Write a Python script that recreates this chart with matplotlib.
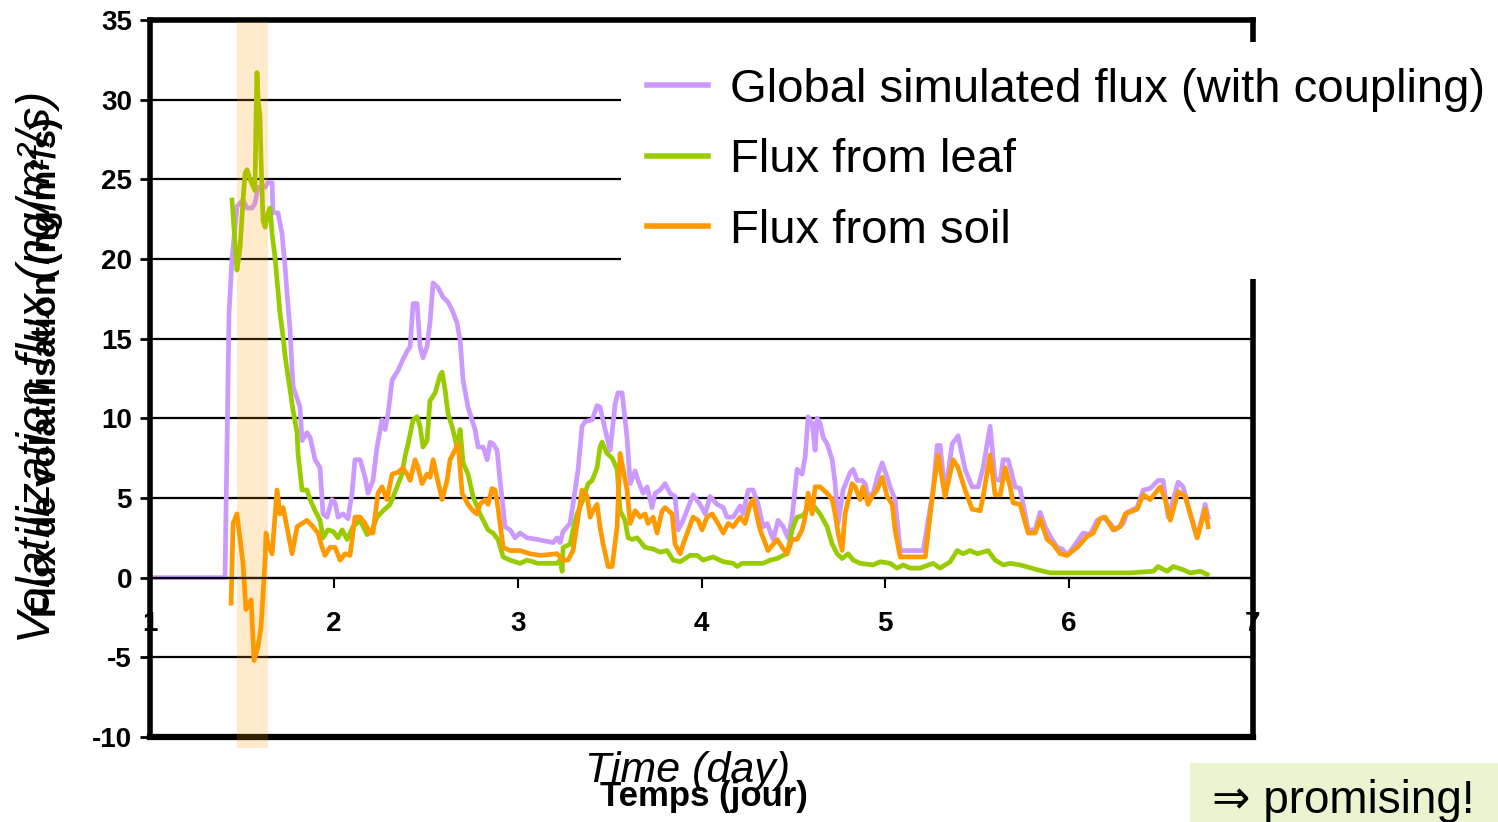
import matplotlib
matplotlib.use("Agg")
import matplotlib.pyplot as plt
from matplotlib.patches import Rectangle

plt.rcParams["font.family"] = ["Liberation Sans", "DejaVu Sans"]
plt.rcParams["axes.unicode_minus"] = False

# Global simulated flux (with coupling)
global_day = [1.000, 1.408, 1.430, 1.446, 1.473, 1.506, 1.528, 1.555, 1.571, 1.588, 1.626, 1.642,
              1.664, 1.669, 1.696, 1.718, 1.735, 1.745, 1.762, 1.778, 1.816, 1.827, 1.854, 1.871,
              1.898, 1.925, 1.941, 1.963, 1.990, 2.007, 2.023, 2.050, 2.077, 2.099, 2.115, 2.143,
              2.170, 2.186, 2.213, 2.235, 2.262, 2.279, 2.295, 2.317, 2.349, 2.376, 2.398, 2.415,
              2.431, 2.453, 2.469, 2.485, 2.507, 2.523, 2.540, 2.567, 2.594, 2.621, 2.643, 2.670,
              2.687, 2.703, 2.730, 2.752, 2.768, 2.785, 2.812, 2.834, 2.850, 2.866, 2.888, 2.904,
              2.921, 2.931, 2.959, 2.986, 3.013, 3.051, 3.106, 3.149, 3.193, 3.214, 3.231, 3.247,
              3.285, 3.301, 3.329, 3.350, 3.367, 3.405, 3.432, 3.448, 3.476, 3.503, 3.530, 3.546,
              3.568, 3.595, 3.612, 3.639, 3.655, 3.682, 3.704, 3.731, 3.748, 3.775, 3.802, 3.829,
              3.856, 3.873, 3.900, 3.927, 3.954, 3.992, 4.020, 4.047, 4.085, 4.118, 4.139, 4.172,
              4.210, 4.226, 4.254, 4.281, 4.308, 4.335, 4.357, 4.390, 4.417, 4.444, 4.471, 4.493,
              4.520, 4.547, 4.564, 4.580, 4.602, 4.618, 4.629, 4.645, 4.662, 4.683, 4.711, 4.727,
              4.743, 4.770, 4.809, 4.825, 4.847, 4.874, 4.890, 4.906, 4.934, 4.961, 4.983, 5.010,
              5.026, 5.053, 5.081, 5.206, 5.260, 5.282, 5.298, 5.325, 5.364, 5.396, 5.434, 5.472,
              5.505, 5.532, 5.570, 5.597, 5.625, 5.641, 5.668, 5.706, 5.733, 5.777, 5.815, 5.842,
              5.869, 5.907, 5.935, 5.962, 5.989, 6.022, 6.076, 6.114, 6.152, 6.185, 6.223, 6.250,
              6.294, 6.316, 6.370, 6.403, 6.441, 6.484, 6.511, 6.539, 6.593, 6.620, 6.658, 6.696,
              6.740, 6.756]
global_flux = [0, 0, 16.6, 20.0, 23.3, 23.7, 23.2, 23.2, 23.5, 24.5, 24.5, 24.8,
               24.8, 22.9, 22.9, 21.6, 19.5, 17.9, 15.5, 12.0, 10.7, 8.6, 9.1, 8.8,
               7.4, 6.9, 4.0, 3.8, 4.9, 4.7, 3.8, 4.0, 3.7, 5.3, 7.4, 7.4,
               6.3, 5.3, 6.1, 8.2, 9.9, 9.3, 10.3, 12.4, 13.0, 13.7, 14.2, 14.5,
               17.2, 17.2, 14.5, 13.8, 14.5, 16.0, 18.5, 18.2, 17.6, 17.3, 16.8, 16.0,
               14.9, 12.4, 10.7, 9.9, 9.3, 8.2, 8.2, 7.4, 8.5, 8.4, 8.0, 6.1,
               4.4, 3.2, 3.0, 2.5, 2.8, 2.5, 2.4, 2.3, 2.2, 2.5, 2.2, 2.9,
               3.4, 4.6, 6.8, 9.5, 9.8, 9.9, 10.8, 10.7, 9.3, 8.0, 10.9, 11.6,
               11.6, 8.8, 5.9, 6.7, 6.1, 5.3, 5.7, 4.4, 5.3, 5.5, 5.9, 5.3,
               5.1, 3.0, 3.6, 4.4, 5.2, 4.6, 4.0, 5.1, 4.6, 4.4, 3.8, 3.8,
               4.5, 4.0, 5.5, 5.5, 4.6, 3.2, 3.4, 2.4, 3.6, 3.2, 2.5, 3.8,
               6.8, 6.5, 7.6, 10.1, 9.7, 8.0, 10.0, 9.7, 8.8, 8.4, 7.4, 5.9,
               3.4, 5.5, 6.6, 6.8, 6.1, 6.1, 5.9, 5.1, 5.3, 6.5, 7.2, 6.3,
               5.7, 4.9, 1.7, 1.7, 5.5, 8.3, 8.3, 5.3, 8.4, 8.9, 6.8, 5.7,
               5.7, 6.9, 9.5, 6.2, 6.1, 7.4, 7.4, 5.7, 5.6, 3.0, 3.0, 4.1,
               3.2, 2.4, 1.9, 1.8, 1.4, 1.9, 2.8, 2.7, 3.6, 3.8, 3.4, 3.0,
               3.4, 4.1, 4.4, 5.5, 5.6, 6.1, 6.1, 3.8, 6.0, 5.7, 4.0, 2.5,
               4.6, 3.8]

# Flux from leaf
leaf_day = [1.446, 1.473, 1.490, 1.506, 1.517, 1.528, 1.544, 1.571, 1.577, 1.582, 1.588, 1.598,
            1.604, 1.615, 1.626, 1.642, 1.653, 1.664, 1.680, 1.691, 1.707, 1.724, 1.735, 1.751,
            1.762, 1.778, 1.800, 1.805, 1.827, 1.854, 1.871, 1.898, 1.925, 1.941, 1.968, 1.996,
            2.023, 2.045, 2.072, 2.104, 2.143, 2.181, 2.208, 2.235, 2.268, 2.306, 2.344, 2.371,
            2.387, 2.404, 2.431, 2.453, 2.469, 2.485, 2.507, 2.523, 2.551, 2.578, 2.589, 2.605,
            2.621, 2.643, 2.670, 2.687, 2.703, 2.730, 2.757, 2.795, 2.839, 2.866, 2.893, 2.921,
            2.959, 3.013, 3.051, 3.084, 3.106, 3.214, 3.231, 3.242, 3.247, 3.285, 3.301, 3.323,
            3.356, 3.383, 3.405, 3.432, 3.448, 3.459, 3.486, 3.514, 3.541, 3.557, 3.584, 3.601,
            3.622, 3.650, 3.693, 3.737, 3.775, 3.813, 3.846, 3.884, 3.938, 3.976, 4.009, 4.063,
            4.118, 4.172, 4.194, 4.221, 4.335, 4.373, 4.411, 4.444, 4.466, 4.493, 4.520, 4.553,
            4.591, 4.618, 4.645, 4.683, 4.711, 4.738, 4.765, 4.798, 4.825, 4.863, 4.934, 4.972,
            5.026, 5.064, 5.097, 5.135, 5.189, 5.260, 5.298, 5.353, 5.391, 5.423, 5.461, 5.500,
            5.559, 5.597, 5.641, 5.679, 5.733, 5.826, 5.897, 6.332, 6.457, 6.484, 6.533, 6.566,
            6.620, 6.658, 6.713, 6.751]
leaf_flux = [23.7, 19.3, 20.7, 23.7, 25.4, 25.6, 25.0, 24.3, 29.1, 31.7, 30.0, 29.0,
             26.2, 22.4, 22.0, 22.9, 23.2, 21.6, 20.1, 18.7, 16.6, 15.1, 13.9, 12.6,
             11.8, 10.5, 9.1, 7.8, 5.5, 5.5, 4.9, 4.2, 3.6, 2.5, 3.0, 2.9,
             2.5, 3.0, 2.4, 3.2, 3.6, 2.7, 3.0, 3.8, 4.2, 4.6, 5.7, 6.5,
             7.6, 8.4, 9.9, 10.1, 9.5, 8.2, 8.6, 11.1, 11.6, 12.7, 12.9, 11.8,
             10.3, 9.5, 8.2, 9.3, 7.2, 6.5, 5.1, 4.0, 3.0, 2.8, 2.4, 1.3,
             1.1, 0.9, 1.1, 1.0, 0.9, 0.9, 1.1, 0.4, 1.9, 2.1, 3.0, 4.0,
             4.9, 5.9, 6.1, 6.9, 8.2, 8.5, 7.8, 7.5, 6.8, 4.2, 3.6, 2.5,
             2.4, 2.5, 1.9, 1.8, 1.6, 1.7, 1.1, 1.0, 1.4, 1.4, 1.1, 1.3,
             1.0, 0.9, 0.7, 0.9, 0.9, 1.1, 1.2, 1.4, 1.5, 3.0, 3.8, 3.9,
             4.6, 4.4, 4.0, 3.2, 2.1, 1.5, 1.2, 1.5, 1.1, 0.9, 0.8, 1.0,
             0.9, 0.6, 0.8, 0.6, 0.6, 0.9, 0.6, 1.0, 1.7, 1.5, 1.7, 1.5,
             1.7, 1.1, 0.8, 0.9, 0.8, 0.5, 0.3, 0.3, 0.4, 0.7, 0.4, 0.7,
             0.5, 0.3, 0.4, 0.2]

# Flux from soil
soil_day = [1.441, 1.452, 1.473, 1.490, 1.506, 1.522, 1.550, 1.566, 1.588, 1.604, 1.626, 1.631,
            1.642, 1.664, 1.691, 1.707, 1.724, 1.751, 1.773, 1.800, 1.827, 1.854, 1.887, 1.914,
            1.936, 1.952, 1.979, 2.007, 2.034, 2.061, 2.088, 2.115, 2.143, 2.170, 2.197, 2.213,
            2.240, 2.262, 2.289, 2.317, 2.349, 2.376, 2.398, 2.415, 2.442, 2.458, 2.480, 2.507,
            2.523, 2.540, 2.561, 2.589, 2.616, 2.632, 2.659, 2.676, 2.698, 2.730, 2.757, 2.779,
            2.795, 2.823, 2.839, 2.861, 2.877, 2.893, 2.921, 2.959, 3.013, 3.067, 3.122, 3.214,
            3.247, 3.274, 3.301, 3.329, 3.350, 3.378, 3.394, 3.410, 3.432, 3.448, 3.465, 3.492,
            3.514, 3.541, 3.557, 3.595, 3.612, 3.639, 3.666, 3.693, 3.709, 3.737, 3.758, 3.786,
            3.802, 3.840, 3.856, 3.884, 3.900, 3.922, 3.954, 3.982, 4.003, 4.030, 4.058, 4.090,
            4.118, 4.145, 4.172, 4.210, 4.237, 4.264, 4.281, 4.319, 4.362, 4.390, 4.411, 4.439,
            4.466, 4.493, 4.520, 4.547, 4.564, 4.580, 4.602, 4.618, 4.645, 4.683, 4.711, 4.727,
            4.743, 4.765, 4.781, 4.819, 4.836, 4.863, 4.879, 4.906, 4.928, 4.955, 4.983, 5.010,
            5.037, 5.053, 5.081, 5.217, 5.260, 5.287, 5.325, 5.369, 5.396, 5.434, 5.472, 5.516,
            5.532, 5.570, 5.597, 5.625, 5.652, 5.679, 5.695, 5.733, 5.777, 5.815, 5.842, 5.880,
            5.913, 5.951, 5.989, 6.044, 6.098, 6.131, 6.169, 6.196, 6.239, 6.277, 6.305, 6.370,
            6.403, 6.441, 6.495, 6.522, 6.550, 6.593, 6.631, 6.669, 6.696, 6.740, 6.756]
soil_flux = [-1.6, 3.4, 4.0, 2.4, 0.9, -2.0, -1.4, -5.2, -4.3, -3.1, 1.1, 2.8,
             2.1, 1.5, 5.5, 4.0, 4.4, 2.8, 1.5, 3.2, 3.4, 3.6, 3.2, 2.8,
             1.9, 1.4, 1.9, 1.9, 1.1, 1.5, 1.4, 3.8, 3.8, 3.4, 2.8, 2.8,
             5.3, 5.7, 4.9, 6.5, 6.6, 6.9, 6.5, 6.1, 7.4, 6.9, 5.9, 6.5,
             6.3, 7.4, 6.3, 4.9, 6.1, 7.4, 8.0, 8.4, 5.3, 4.6, 4.2, 4.0,
             4.6, 4.9, 4.6, 5.6, 5.5, 4.4, 1.9, 1.7, 1.7, 1.5, 1.4, 1.5,
             1.1, 1.1, 1.7, 3.8, 5.5, 5.1, 3.8, 4.2, 4.6, 3.2, 2.1, 0.7,
             0.7, 3.2, 7.8, 5.5, 3.4, 4.2, 3.8, 4.0, 3.4, 3.8, 2.8, 4.2,
             4.4, 4.0, 2.1, 1.5, 2.1, 2.8, 3.8, 3.6, 3.0, 3.8, 4.0, 3.4,
             2.8, 3.4, 3.2, 3.8, 3.4, 4.6, 4.9, 3.0, 1.7, 2.1, 2.4, 1.9,
             1.5, 2.4, 2.4, 3.0, 3.8, 5.3, 4.0, 5.7, 5.7, 5.3, 4.9, 4.0,
             2.8, 1.7, 4.0, 5.9, 5.7, 4.9, 5.7, 4.6, 5.1, 5.5, 6.3, 5.1,
             4.6, 3.0, 1.3, 1.3, 5.5, 7.7, 5.1, 7.4, 6.9, 5.5, 4.3, 4.2,
             5.1, 7.7, 5.2, 5.2, 6.9, 5.7, 4.7, 4.6, 2.8, 2.8, 3.7, 2.4,
             2.1, 1.5, 1.4, 1.9, 2.6, 2.8, 3.7, 3.8, 3.0, 3.2, 4.0, 4.3,
             5.2, 4.9, 5.7, 4.9, 3.6, 5.4, 5.1, 3.6, 2.5, 4.3, 3.2]

# Highlighted window (first application period)
highlight_start = 1.473
highlight_end = 1.642

series_labels = ["Global simulated flux (with coupling)", "Flux from leaf", "Flux from soil"]
series_colors = ["#CC99FF", "#99CC00", "#FF9900"]

x_ticks = [1, 2, 3, 4, 5, 6, 7]
y_ticks = [-10, -5, 0, 5, 10, 15, 20, 25, 30, 35]

W, H = 1498, 822
fig = plt.figure(figsize=(W / 100, H / 100), dpi=100)
ax = fig.add_axes([150 / W, 85 / H, 1103 / W, 717 / H])

# x axis sits on the zero line, the frame is a thick box
ax.spines["bottom"].set_position(("data", 0))
ax.spines["bottom"].set_linewidth(1.6)
for side in ["left", "right", "top"]:
    ax.spines[side].set_linewidth(4)

ax.plot(global_day, global_flux, color=series_colors[0], lw=3.4, label=series_labels[0], zorder=2)
ax.plot(leaf_day, leaf_flux, color=series_colors[1], lw=3.4, label=series_labels[1], zorder=2.1)
ax.plot(soil_day, soil_flux, color=series_colors[2], lw=3.4, label=series_labels[2], zorder=2.2)

# translucent band over the first day's peak
ax.axvspan(highlight_start, highlight_end, ymin=-0.0153, ymax=0.997, color="#FF9900",
           alpha=0.2, lw=0, zorder=4, clip_on=False)

ax.set_xlim(1, 7)
ax.set_ylim(-10, 35)
ax.set_xticks(x_ticks)
ax.set_yticks(y_ticks)
ax.tick_params(axis="both", labelsize=20)
ax.tick_params(axis="y", direction="out", length=7, width=2, pad=6)
ax.tick_params(axis="x", direction="out", length=7, width=1.5, pad=17)
for lbl in ax.get_xticklabels() + ax.get_yticklabels():
    lbl.set_fontweight("bold")
ax.yaxis.grid(True, color="black", lw=1.6)
ax.axhline(-10, color="black", lw=4.5, clip_on=False, zorder=3)

leg = ax.legend(loc="upper left", bbox_to_anchor=(621 / W, 1 - 42 / H),
                bbox_transform=fig.transFigure, fontsize=34, frameon=True,
                fancybox=False, framealpha=1, edgecolor="none", borderpad=0.55,
                borderaxespad=0, handlelength=1.3, handletextpad=0.45, labelspacing=0.56)
for line in leg.get_lines():
    line.set_linewidth(4)

# overlapping English / French axis titles
fig.text(38 / W, 1 - 367 / H, "Volatilization flux (ng/m²/s)", rotation=90,
         ha="center", va="center", fontsize=34, fontstyle="italic")
fig.text(47 / W, 1 - 367 / H, "Flux de volatilisation (ng/m²/s)", rotation=90,
         ha="center", va="center", fontsize=25, fontweight="bold")
fig.text(688 / W, 1 - 771 / H, "Time (day)", ha="center", va="center",
         fontsize=31, fontstyle="italic")
fig.text(704 / W, 1 - 796 / H, "Temps (jour)", ha="center", va="center",
         fontsize=25, fontweight="bold")

fig.patches.append(Rectangle((1190 / W, 0), 310 / W, 59 / H, transform=fig.transFigure,
                             facecolor="#EAF4D0", edgecolor="none"))
fig.text(1212 / W, 9 / H, "\u21d2 promising!", ha="left", va="baseline", fontsize=33)

fig.savefig("out.png", dpi=100)
